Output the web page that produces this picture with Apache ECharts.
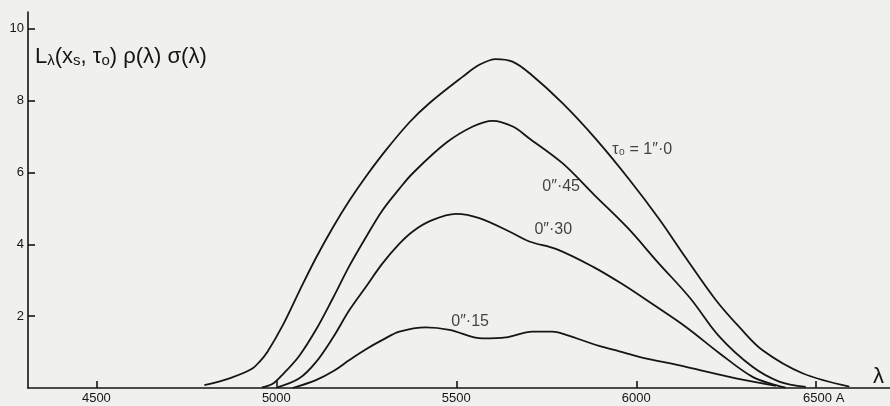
<!DOCTYPE html>
<html>
<head>
<meta charset="utf-8">
<script src="https://cdn.jsdelivr.net/npm/echarts@6/dist/echarts.min.js"></script>
<style>
  html, body { margin: 0; padding: 0; background: #f0f0ee; }
  #chart { width: 890px; height: 406px; }
</style>
</head>
<body>
<div id="chart"></div>
<script>
// ---- data ----
const lambdaTau100 = [4800, 4870, 4930, 4955, 4975, 5018, 5064, 5110, 5157, 5203, 5249, 5305, 5370, 5425, 5518, 5564, 5610, 5656, 5703, 5795, 5888, 5981, 6064, 6138, 6221, 6286, 6351, 6462, 6592];
const valueTau100  = [0.08, 0.27, 0.52, 0.75, 1.0, 1.75, 2.7, 3.62, 4.47, 5.22, 5.89, 6.63, 7.4, 7.93, 8.67, 9.0, 9.16, 9.09, 8.77, 7.93, 6.93, 5.8, 4.7, 3.62, 2.45, 1.7, 1.05, 0.41, 0.04];

const lambdaTau045 = [4960, 4990, 5018, 5064, 5110, 5157, 5203, 5249, 5295, 5342, 5379, 5471, 5546, 5601, 5657, 5703, 5795, 5883, 5975, 6060, 6150, 6231, 6323, 6397, 6471];
const valueTau045  = [0.02, 0.12, 0.38, 0.9, 1.62, 2.5, 3.4, 4.2, 4.95, 5.55, 5.98, 6.82, 7.28, 7.44, 7.28, 6.95, 6.26, 5.38, 4.47, 3.5, 2.5, 1.43, 0.59, 0.18, 0.03];

const lambdaTau030 = [5003, 5064, 5110, 5157, 5203, 5249, 5295, 5342, 5379, 5425, 5499, 5564, 5657, 5703, 5780, 5879, 5960, 6046, 6138, 6231, 6323, 6388, 6415];
const valueTau030  = [0.02, 0.27, 0.72, 1.4, 2.17, 2.82, 3.47, 4.02, 4.36, 4.64, 4.85, 4.73, 4.31, 4.08, 3.86, 3.38, 2.9, 2.33, 1.7, 0.97, 0.31, 0.08, 0.01];

const lambdaTau015 = [5045, 5110, 5160, 5203, 5249, 5295, 5342, 5416, 5481, 5573, 5638, 5712, 5767, 5805, 5897, 5953, 6008, 6138, 6277, 6388];
const valueTau015  = [0.0, 0.22, 0.48, 0.78, 1.08, 1.34, 1.57, 1.69, 1.62, 1.38, 1.41, 1.57, 1.57, 1.48, 1.17, 1.02, 0.87, 0.59, 0.27, 0.06];

const curveNames = ['τ₀ = 1″·0', '0″·45', '0″·30', '0″·15'];
const xTickValues = [4500, 5000, 5500, 6000, 6500];
const yTickValues = [2, 4, 6, 8, 10];

// ---- chart ----
const ink = '#151515';
const font = '"Liberation Sans", "DejaVu Sans", sans-serif';
function pairs(xs, ys) { return xs.map((x, i) => [x, ys[i]]); }

const lineSeries = [
  [lambdaTau100, valueTau100],
  [lambdaTau045, valueTau045],
  [lambdaTau030, valueTau030],
  [lambdaTau015, valueTau015]
].map((s, i) => ({
  type: 'line',
  name: curveNames[i],
  data: pairs(s[0], s[1]),
  smooth: 0.35,
  showSymbol: false,
  silent: true,
  lineStyle: { color: ink, width: 1.8 }
}));

const labelSeries = {
  type: 'scatter',
  symbolSize: 0,
  silent: true,
  data: [
    { value: [5933, 6.63], name: curveNames[0] },
    { value: [5739, 5.6], name: curveNames[1] },
    { value: [5717, 4.4], name: curveNames[2] },
    { value: [5486, 1.84], name: curveNames[3] }
  ],
  label: {
    show: true,
    position: 'right',
    distance: 0,
    formatter: p => p.name,
    color: ink,
    fontFamily: font,
    fontSize: 16
  }
};

const chart = echarts.init(document.getElementById('chart'), null, { renderer: 'canvas' });
chart.setOption({
  backgroundColor: '#f0f0ee',
  animation: false,
  grid: { left: 28, right: 0, top: 12, bottom: 18, outerBoundsMode: 'none' },
  xAxis: {
    type: 'value',
    min: 4310,
    max: 6705,
    splitLine: { show: false },
    axisLine: { show: true, lineStyle: { color: ink, width: 1.6 } },
    axisTick: { show: true, inside: true, length: 7, customValues: xTickValues, lineStyle: { color: ink, width: 1.6 } },
    axisLabel: {
      customValues: xTickValues,
      margin: 4,
      color: ink,
      fontFamily: font,
      fontSize: 13,
      formatter: v => v === 6500 ? '{p|}6500 A' : String(v),
      rich: { p: { width: 15 } }
    }
  },
  yAxis: {
    type: 'value',
    min: 0,
    max: 10.47,
    splitLine: { show: false },
    axisLine: { show: true, lineStyle: { color: ink, width: 1.6 } },
    axisTick: { show: true, inside: true, length: 7, customValues: yTickValues, lineStyle: { color: ink, width: 1.6 } },
    axisLabel: {
      customValues: yTickValues,
      margin: 4,
      color: ink,
      fontFamily: font,
      fontSize: 13
    }
  },
  graphic: [
    {
      type: 'text',
      left: 35,
      top: 46,
      style: {
        text: '{b|L}{s|λ}{b|(x}{s|s}{b|, τ}{s|o}{b|) ρ(λ) σ(λ)}',
        rich: {
          b: { fontSize: 22, fontFamily: font, fill: ink, verticalAlign: 'bottom' },
          s: { fontSize: 15, fontFamily: font, fill: ink, verticalAlign: 'bottom' }
        }
      }
    },
    {
      type: 'text',
      left: 873,
      top: 366,
      style: { text: 'λ', fontSize: 22, fontFamily: font, fill: ink }
    }
  ],
  series: [...lineSeries, labelSeries]
});
</script>
</body>
</html>
